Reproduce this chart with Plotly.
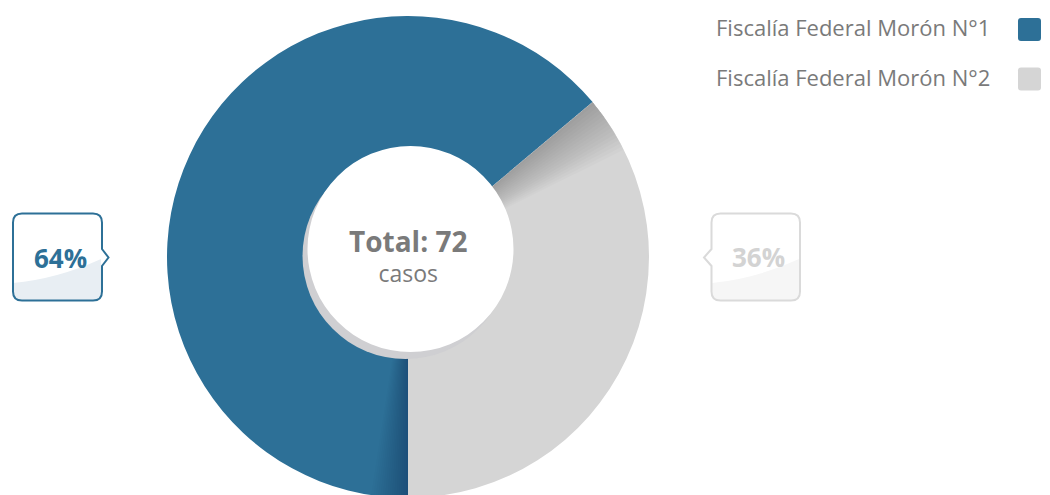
import plotly.graph_objects as go

# ---- data ----
labels = ["Fiscalía Federal Morón N°1", "Fiscalía Federal Morón N°2"]
values = [46, 26]
colors = ["#2d7097", "#d5d5d5"]
pct_labels = ["64%", "36%"]
total_label = "Total: 72"
unit_label = "casos"

W, H = 1050, 495
OFF = 8  # page body margin of the html page
FONT = "Open Sans"


def px(x):
    return (x - OFF) / W


def py(y):
    return 1 - (y - OFF) / H


def P(x, y):
    return f"{px(x):.5f},{py(y):.5f}"


# donut geometry (pixels in the final picture)
cx, cy, R = 408, 257, 241
dom = dict(x=[px(cx - R), px(cx + R)], y=[py(cy + R), py(cy - R)])
pie_common = dict(sort=False, direction="clockwise", rotation=180, hole=0.4,
                  textinfo="none", hoverinfo="skip", showlegend=False, domain=dom)

fig = go.Figure()
fig.add_trace(go.Pie(labels=labels, values=values,
                     marker=dict(colors=colors, line=dict(width=0)), **pie_common))

# soft shading layers (3D look): shadow on the grey slice next to the blue one,
# and a darker band at the start of the blue slice
total = sum(values)
n_layers = 16
for i in range(1, n_layers + 1):
    w = 0.17 * i
    fig.add_trace(go.Pie(values=[values[0], w, total - values[0] - w],
                         marker=dict(colors=["rgba(0,0,0,0)", "rgba(0,0,0,0.014)", "rgba(0,0,0,0)"],
                                     line=dict(width=0)), **pie_common))
for i in range(1, n_layers + 1):
    w = 0.11 * i
    fig.add_trace(go.Pie(values=[w, total - w],
                         marker=dict(colors=["rgba(0,20,50,0.015)", "rgba(0,0,0,0)"],
                                     line=dict(width=0)), **pie_common))

shapes = []
# hole shadow + white hole
hx, hy, hr = 410.5, 249, 103
shapes.append(dict(type="circle", xref="paper", yref="paper",
                   x0=px(hx - hr - 5), x1=px(hx + hr - 5),
                   y0=py(hy + hr + 7), y1=py(hy - hr + 7),
                   fillcolor="#cfcfd2", line=dict(width=0), layer="above"))
shapes.append(dict(type="circle", xref="paper", yref="paper",
                   x0=px(hx - hr), x1=px(hx + hr),
                   y0=py(hy + hr), y1=py(hy - hr),
                   fillcolor="#ffffff", line=dict(width=0), layer="above"))


def callout(x0, x1, y0, y1, r, notch_side, nb0, nb1, tip_x, tip_y):
    d = f"M{P(x0 + r, y0)} L{P(x1 - r, y0)} Q{P(x1, y0)} {P(x1, y0 + r)} "
    if notch_side == "right":
        d += f"L{P(x1, nb0)} L{P(tip_x, tip_y)} L{P(x1, nb1)} "
    d += f"L{P(x1, y1 - r)} Q{P(x1, y1)} {P(x1 - r, y1)} L{P(x0 + r, y1)} Q{P(x0, y1)} {P(x0, y1 - r)} "
    if notch_side == "left":
        d += f"L{P(x0, nb1)} L{P(tip_x, tip_y)} L{P(x0, nb0)} "
    d += f"L{P(x0, y0 + r)} Q{P(x0, y0)} {P(x0 + r, y0)} Z"
    return d


def wave(x0, x1, y1, r, yl, yr):
    d = (f"M{P(x0, yl)} Q{P((x0 + x1) / 2, yl - 4)} {P(x1, yr)} "
         f"L{P(x1, y1 - r)} Q{P(x1, y1)} {P(x1 - r, y1)} L{P(x0 + r, y1)} "
         f"Q{P(x0, y1)} {P(x0, y1 - r)} Z")
    return d


# left callout (64%)
shapes.append(dict(type="path", xref="paper", yref="paper",
                   path=wave(13, 101, 300, 9, 283, 259),
                   fillcolor="#e8eef3", line=dict(width=0), layer="above"))
shapes.append(dict(type="path", xref="paper", yref="paper",
                   path=callout(13, 102, 213.5, 300.5, 9, "right", 249, 266, 108.5, 257.5),
                   fillcolor="rgba(0,0,0,0)", line=dict(color=colors[0], width=2), layer="above"))
# right callout (36%)
shapes.append(dict(type="path", xref="paper", yref="paper",
                   path=wave(712, 799, 300, 9, 283, 259),
                   fillcolor="#f6f6f6", line=dict(width=0), layer="above"))
shapes.append(dict(type="path", xref="paper", yref="paper",
                   path=callout(711.5, 800, 213.5, 300.5, 9, "left", 249, 266, 704, 257.5),
                   fillcolor="rgba(0,0,0,0)", line=dict(color="#dadada", width=2), layer="above"))

# legend squares
leg_y = [29.5, 79]
for c, ly in zip(colors, leg_y):
    x0, x1, y0, y1, r = 1018, 1041, ly - 11.5, ly + 11.5, 3
    d = (f"M{P(x0 + r, y0)} L{P(x1 - r, y0)} Q{P(x1, y0)} {P(x1, y0 + r)} "
         f"L{P(x1, y1 - r)} Q{P(x1, y1)} {P(x1 - r, y1)} L{P(x0 + r, y1)} "
         f"Q{P(x0, y1)} {P(x0, y1 - r)} L{P(x0, y0 + r)} Q{P(x0, y0)} {P(x0 + r, y0)} Z")
    shapes.append(dict(type="path", xref="paper", yref="paper", path=d,
                       fillcolor=c, line=dict(width=0), layer="above"))

annotations = []
# legend text
for lab, ly in zip(labels, [27, 77]):
    annotations.append(dict(text=lab, x=px(992), y=py(ly), xref="paper", yref="paper",
                            xanchor="right", yanchor="middle", showarrow=False,
                            font=dict(family=FONT, size=22, color="#7a7a7a")))
# center text (one block, two lines)
annotations.append(dict(
    text=f"<b><span style='font-size:28px'>{total_label}</span></b><br>{unit_label}",
    x=px(408), y=py(255), xref="paper", yref="paper",
    xanchor="center", yanchor="middle", showarrow=False,
    font=dict(family=FONT, size=23, color="#7a7a7a")))
# callout text
annotations.append(dict(text=f"<b>{pct_labels[0]}</b>", x=px(60), y=py(258), xref="paper", yref="paper",
                        xanchor="center", yanchor="middle", showarrow=False,
                        font=dict(family=FONT, size=26, color=colors[0])))
annotations.append(dict(text=f"<b>{pct_labels[1]}</b>", x=px(758), y=py(257), xref="paper", yref="paper",
                        xanchor="center", yanchor="middle", showarrow=False,
                        font=dict(family=FONT, size=26, color="#d3d3d3")))

fig.update_layout(
    width=W, height=H,
    margin=dict(l=0, r=0, t=0, b=0),
    paper_bgcolor="#ffffff",
    plot_bgcolor="#ffffff",
    shapes=shapes,
    annotations=annotations,
    showlegend=False,
)

fig.write_html("out.html")
